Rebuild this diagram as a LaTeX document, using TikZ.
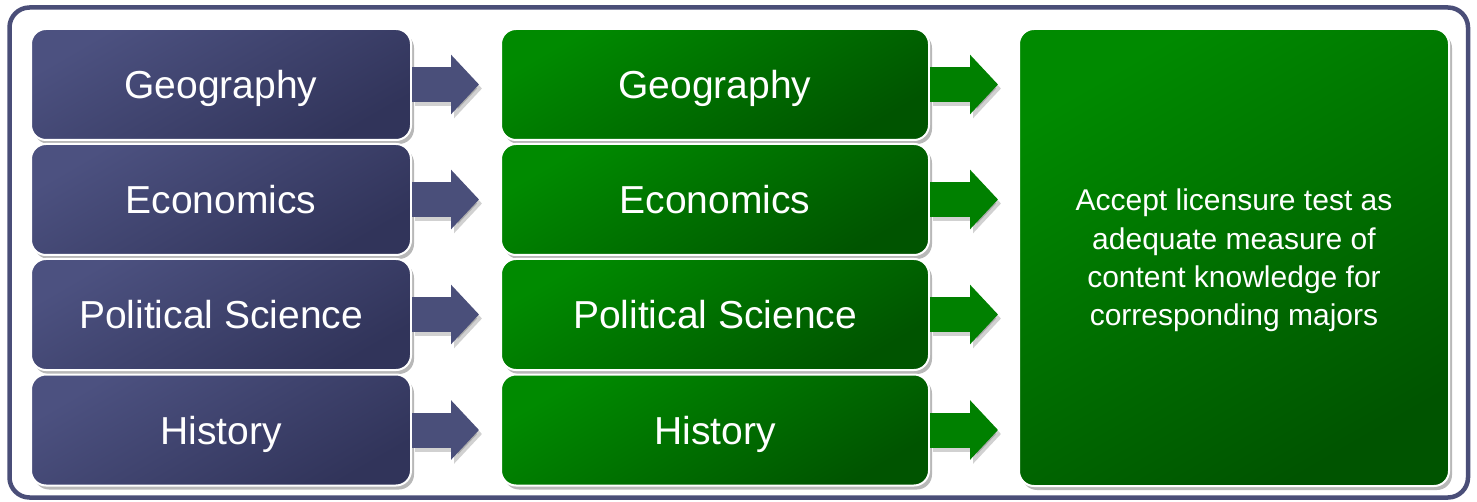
\documentclass[tikz,border=0pt]{standalone}
\usepackage{fontspec}
\setmainfont{Liberation Sans}
\usetikzlibrary{shadows,arrows.meta,calc}
\definecolor{navyA}{HTML}{4C5180}
\definecolor{navyB}{HTML}{31345A}
\definecolor{navyArrow}{HTML}{4A4F7A}
\definecolor{frameC}{HTML}{4A4E78}
\definecolor{greenA}{HTML}{008A00}
\definecolor{greenB}{HTML}{005400}
\definecolor{greenArrow}{HTML}{008000}
\begin{document}
\begin{tikzpicture}[x=1pt,y=-1pt,
  boxbase/.style={draw=white, line width=2pt, rounded corners=15pt, text=white,
    drop shadow={shadow xshift=3pt, shadow yshift=-4pt, opacity=0.28, fill=black}},
  lbox/.style={boxbase, minimum width=380pt, minimum height=111pt,
    top color=navyA, bottom color=navyB, shading angle=30,
    text height=28pt, text depth=0pt,
    font=\fontsize{39}{47}\selectfont},
  mbox/.style={boxbase, minimum width=428pt, minimum height=111pt,
    top color=greenA, bottom color=greenB, shading angle=30,
    text height=28pt, text depth=0pt,
    font=\fontsize{39}{47}\selectfont},
  rbox/.style={boxbase, minimum width=430pt, minimum height=457pt,
    top color=greenA, bottom color=greenB, shading angle=30,
    text depth=0pt,
    align=center, font=\fontsize{30}{38.3}\selectfont},
  arrowshadow/.style={line width=35pt, draw=black, opacity=0.18,
    -{Triangle[length=28pt,width=58pt]}},
  blockarrow/.style={line width=35pt, -{Triangle[length=28pt,width=58pt]}},
]
\useasboundingbox (0,0) rectangle (1477,502);
% outer frame
\draw[frameC, line width=4.5pt, rounded corners=20pt, fill=white]
  (9.5,7.5) rectangle (1468,497.5);
% boxes
\node[lbox] (l1) at (221,84.5) {Geography};
\node[lbox] (l2) at (221,199.5) {Economics};
\node[lbox] (l3) at (221,314.5) {Political Science};
\node[lbox] (l4) at (221,430) {History};
\node[mbox] (m1) at (715,84.5) {Geography};
\node[mbox] (m2) at (715,199.5) {Economics};
\node[mbox] (m3) at (715,314.5) {Political Science};
\node[mbox] (m4) at (715,430) {History};
\node[rbox] (r) at (1234,257.5) {Accept licensure test as\\adequate measure of\\content knowledge for\\corresponding majors};
% connectors
\foreach \i in {1,2,3,4}{
  \draw[arrowshadow, shorten >=21pt] ($(l\i.east)+(3,4)$) -- ($(m\i.west)+(3,4)$);
  \draw[blockarrow, navyArrow, shorten >=21pt] (l\i.east) -- (m\i.west);
  \draw[arrowshadow, shorten >=20pt] ($(m\i.east)+(3,4)$) -- ($(m\i.east -| r.west)+(3,4)$);
  \draw[blockarrow, greenArrow, shorten >=20pt] (m\i.east) -- (m\i.east -| r.west);
}
\end{tikzpicture}
\end{document}
